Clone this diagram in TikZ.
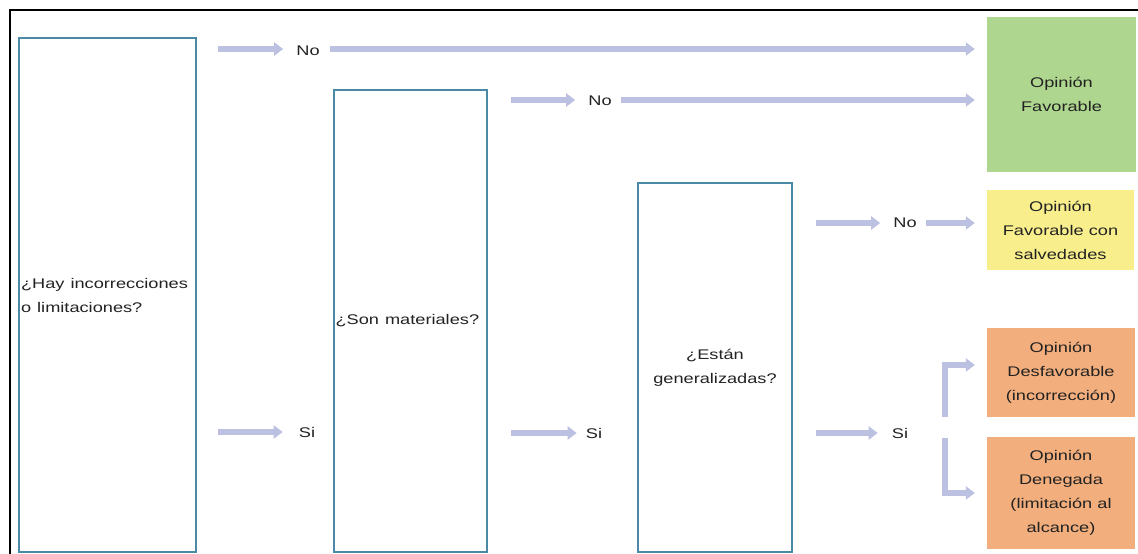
\documentclass[tikz,border=0pt]{standalone}
\usepackage{fontspec}
\setmainfont{Liberation Sans}
\usepackage{graphicx}
\usetikzlibrary{arrows.meta,calc}
\definecolor{boxc}{HTML}{4A8AA6}
\definecolor{arrc}{HTML}{BCC1E2}
\definecolor{favc}{HTML}{AED68E}
\definecolor{salc}{HTML}{F8EE8C}
\definecolor{negc}{HTML}{F2AE7C}
\definecolor{txtc}{HTML}{222222}
\newcommand\sx[1]{\scalebox{1.3}[1]{#1}}
\begin{document}
\begin{tikzpicture}[x=1pt,y=-1pt,
  every node/.style={font=\fontsize{14}{24}\selectfont, text=txtc, inner sep=0pt},
  qbox/.style={draw=boxc, line width=2pt},
  obox/.style={align=center},
  lbl/.style={},
  arr/.style={draw=arrc, line width=6pt, -{Triangle[length=9pt,width=13pt]}}]
\useasboundingbox (0,0) rectangle (1138,554);
% frame
\draw[line width=2.5pt, black] (10,554) -- (10,10) -- (1138,10);
% question boxes
\node[qbox, minimum width=177pt, minimum height=514pt, text width=173pt, align=left]
  (q1) at (107.5,295) {\sx{¿Hay incorrecciones}\\\sx{o limitaciones?}};
\node[qbox, minimum width=153pt, minimum height=462pt, text width=150pt, align=left]
  (q2) at (410.5,321) {\sx{¿Son materiales?}};
\node[qbox, minimum width=154pt, minimum height=369pt, align=center]
  (q3) at (715,367.5) {\sx{¿Están}\\\sx{generalizadas?}};
% outcome boxes
\node[obox, fill=favc, minimum width=149pt, minimum height=155pt] (fav) at (1061.5,94.5)
  {\sx{Opinión}\\\sx{Favorable}};
\node[obox, fill=salc, minimum width=147pt, minimum height=80pt] (sal) at (1060.5,230)
  {\sx{Opinión}\\\sx{Favorable con}\\\sx{salvedades}};
\node[obox, fill=negc, minimum width=148pt, minimum height=89pt] (des) at (1061,372.5)
  {\sx{Opinión}\\\sx{Desfavorable}\\\sx{(incorrección)}};
\node[obox, fill=negc, minimum width=148pt, minimum height=112pt] (den) at (1061,493)
  {\sx{Opinión}\\\sx{Denegada}\\\sx{(limitación al}\\\sx{alcance)}};
% labels
\node[lbl] (no1) at (308,51) {\sx{No}};
\node[lbl] (no2) at (600,101) {\sx{No}};
\node[lbl] (no3) at (905,223) {\sx{No}};
\node[lbl] (si1) at (307,432) {\sx{Si}};
\node[lbl] (si2) at (594,433) {\sx{Si}};
\node[lbl] (si3) at (900,433) {\sx{Si}};
% arrows, row 1
\draw[arr] ($(q1.east |- no1)+(21,-2)$) -- ($(no1.west)+(-13,-2)$);
\draw[arr] ($(no1.east)+(10,-2)$) -- ($(fav.west |- no1)+(-12,-2)$);
% row 2
\draw[arr] ($(q2.east |- no2)+(23,-1)$) -- ($(no2.west)+(-13,-1)$);
\draw[arr] ($(no2.east)+(9,-1)$) -- ($(fav.west |- no2)+(-12,-1)$);
% row 3
\draw[arr] ($(q3.east |- no3)+(23,0)$) -- ($(no3.west)+(-13,0)$);
\draw[arr] ($(no3.east)+(9,0)$) -- ($(sal.west |- no3)+(-12,0)$);
% Si arrows
\draw[arr] ($(q1.east |- si1)+(21,0)$) -- ($(si1.west)+(-16,0)$);
\draw[arr] ($(q2.east |- si2)+(23,0)$) -- ($(si2.west)+(-9,0)$);
\draw[arr] ($(q3.east |- si3)+(23,0)$) -- ($(si3.west)+(-14,0)$);
% bracket
\coordinate (br) at ($(si3.east)+(37,-6)$);
\draw[arr] ($(br)+(0,-10)$) |- ($(des.west)+(-12,-7.5)$);
\draw[arr] ($(br)+(0,11)$) |- ($(den.west)+(-12,0)$);
\end{tikzpicture}
\end{document}
